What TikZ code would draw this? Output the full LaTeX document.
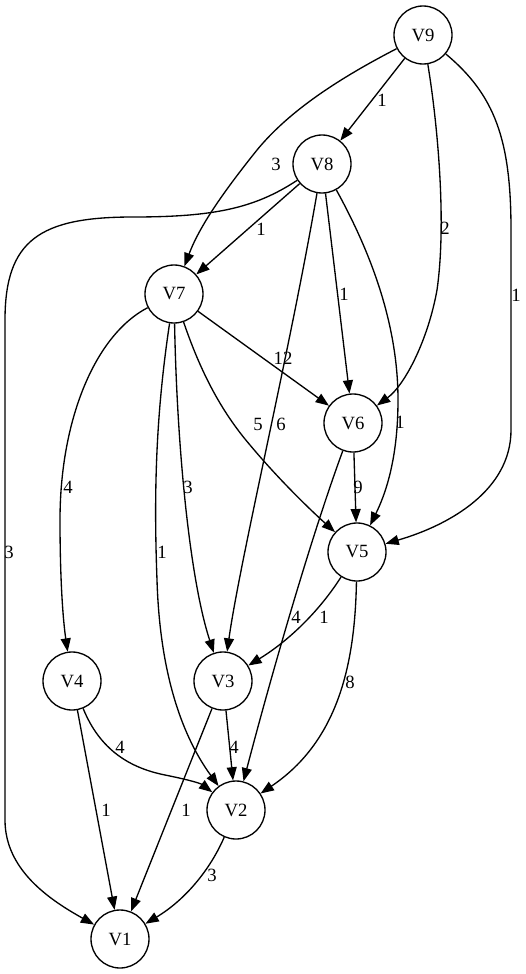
\documentclass[tikz,border=0pt]{standalone}
\usepackage{fontspec}
\setmainfont{Liberation Serif}
\usetikzlibrary{arrows.meta}
\begin{document}
\begin{tikzpicture}[x=1pt,y=-1pt,
  vnode/.style={circle,draw,line width=1.33pt,minimum size=58pt,inner sep=0pt,font=\fontsize{18.7}{20}\selectfont},
  edge/.style={line width=1.33pt,-{Triangle[length=13.3pt,width=10pt]}},
  elabel/.style={inner sep=0pt,font=\fontsize{18.7}{20}\selectfont}]
\useasboundingbox (0,0) rectangle (525,974);
\node[vnode] (V9) at (423,35) {V9};
\node[vnode] (V8) at (322,164) {V8};
\node[vnode] (V7) at (174,294) {V7};
\node[vnode] (V6) at (353,423) {V6};
\node[vnode] (V5) at (357,552) {V5};
\node[vnode] (V4) at (72,681) {V4};
\node[vnode] (V3) at (223,681) {V3};
\node[vnode] (V2) at (236,810) {V2};
\node[vnode] (V1) at (120,939) {V1};
% edges
\draw[edge] (V9) -- (V8);
\draw[edge] (V9) .. controls (340,78) and (290,110) .. (257,150) .. controls (225,190) and (200,225) .. (V7);
\draw[edge] (V9) .. controls (437,120) and (447,220) .. (437,290) .. controls (428,340) and (405,385) .. (V6);
\draw[edge] (V9) .. controls (495,95) and (511,140) .. (511,230) -- (511,430) .. controls (511,490) and (450,525) .. (V5);
\draw[edge] (V8) -- (V7);
\draw[edge] (V8) .. controls (255,208) and (215,217) .. (133,217) .. controls (40,217) and (5,240) .. (5,320) -- (5,820) .. controls (5,870) and (50,900) .. (V1);
\draw[edge] (V8) -- (V6);
\draw[edge] (V8) .. controls (375,260) and (398,330) .. (398,400) .. controls (398,460) and (385,495) .. (V5);
\draw[edge] (V8) .. controls (290,350) and (240,560) .. (V3);
\draw[edge] (V7) -- (V6);
\draw[edge] (V7) .. controls (200,370) and (220,410) .. (250,445) .. controls (275,475) and (305,505) .. (V5);
\draw[edge] (V7) .. controls (95,335) and (60,420) .. (60,520) .. controls (60,580) and (63,620) .. (V4);
\draw[edge] (V7) .. controls (177,450) and (190,580) .. (V3);
\draw[edge] (V7) .. controls (155,420) and (154,500) .. (157,580) .. controls (160,680) and (185,740) .. (V2);
\draw[edge] (V6) -- (V5);
\draw[edge] (V6) .. controls (310,540) and (270,680) .. (V2);
\draw[edge] (V5) .. controls (320,610) and (290,640) .. (V3);
\draw[edge] (V5) .. controls (355,660) and (340,740) .. (V2);
\draw[edge] (V4) .. controls (100,750) and (130,768) .. (165,775) .. controls (185,779) and (200,783) .. (V2);
\draw[edge] (V4) -- (V1);
\draw[edge] (V3) -- (V2);
\draw[edge] (V3) -- (V1);
\draw[edge] (V2) .. controls (210,870) and (185,900) .. (V1);
% labels
\node[elabel] (l98) at (382,100) {1};
\node[elabel] (l97) at (276,164) {3};
\node[elabel] (l96) at (445,228) {2};
\node[elabel] (l95) at (516,295) {1};
\node[elabel] (l87) at (261,229) {1};
\node[elabel] (l81) at (9,552) {3};
\node[elabel] (l86) at (344,294) {1};
\node[elabel] (l85) at (400,422) {1};
\node[elabel] (l83) at (281,424) {6};
\node[elabel] (l76) at (283,358) {12};
\node[elabel] (l75) at (258,424) {5};
\node[elabel] (l74) at (68,487) {4};
\node[elabel] (l73) at (188,487) {3};
\node[elabel] (l72) at (162,552) {1};
\node[elabel] (l65) at (358,487) {9};
\node[elabel] (l62) at (296,617) {4};
\node[elabel] (l53) at (324,617) {1};
\node[elabel] (l52) at (350,682) {8};
\node[elabel] (l42) at (120,747) {4};
\node[elabel] (l41) at (106,810) {1};
\node[elabel] (l32) at (234,747) {4};
\node[elabel] (l31) at (186,810) {1};
\node[elabel] (l21) at (212,875) {3};
\end{tikzpicture}
\end{document}
